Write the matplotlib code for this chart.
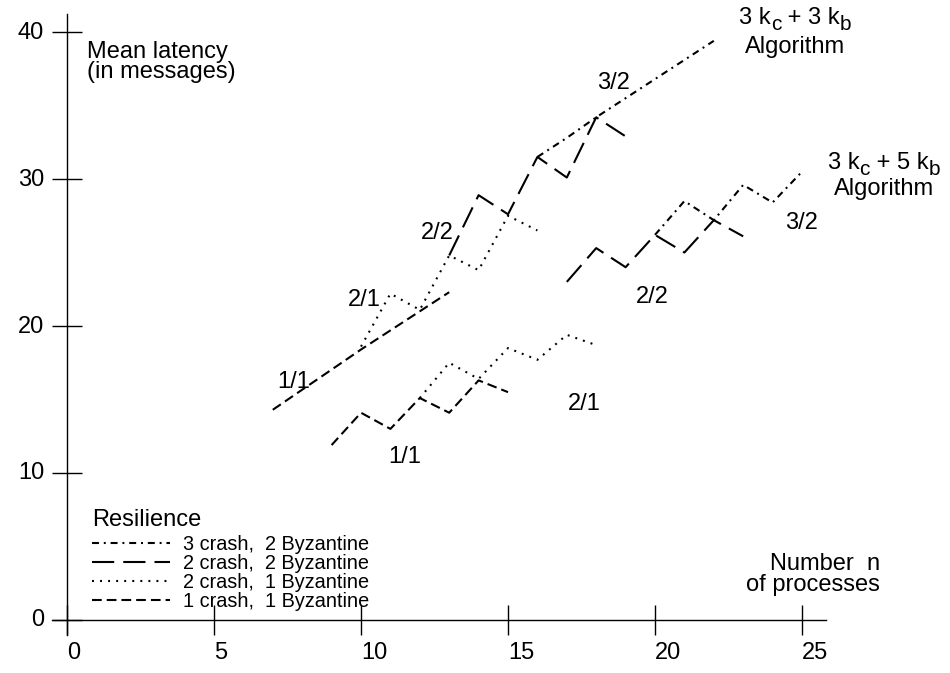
import matplotlib
matplotlib.use("Agg")
import matplotlib.pyplot as plt
from matplotlib.lines import Line2D
from matplotlib.transforms import ScaledTranslation

plt.rcParams['font.family'] = ['Liberation Sans', 'DejaVu Sans']
plt.rcParams['lines.scale_dashes'] = False

# ---- data: 3kc+3kb algorithm (left group) ----
left_11_n = [7, 10, 13]
left_11_y = [14.3, 18.4, 22.3]
left_21_n = [10, 11, 12, 13, 14, 15, 16]
left_21_y = [18.6, 22.2, 21.1, 24.8, 23.8, 27.5, 26.5]
left_22_n = [13, 14, 15, 16, 17, 18, 19]
left_22_y = [24.8, 28.9, 27.6, 31.5, 30.1, 34.2, 32.9]
left_32_n = [16, 17, 18, 20, 22]
left_32_y = [31.5, 32.8, 34.2, 36.8, 39.4]

# ---- data: 3kc+5kb algorithm (right group) ----
right_11_n = [9, 10, 11, 12, 13, 14, 15]
right_11_y = [11.9, 14.1, 13.0, 15.1, 14.1, 16.3, 15.5]
right_21_n = [12, 13, 14, 15, 16, 17, 18]
right_21_y = [15.1, 17.5, 16.4, 18.5, 17.7, 19.4, 18.7]
right_22_n = [17, 18, 19, 20, 21, 22, 23]
right_22_y = [23.0, 25.3, 24.0, 26.2, 25.0, 27.2, 26.1]
right_32_n = [20, 21, 22, 23, 24, 25]
right_32_y = [26.2, 28.5, 27.2, 29.6, 28.4, 30.5]

x_ticks = [0, 5, 10, 15, 20, 25]
x_ticklabels = ['0', '5', '10', '15', '20', '25']
y_ticks = [0, 10, 20, 30, 40]
y_ticklabels = ['0', '10', '20', '30', '40']

legend_title = 'Resilience'
legend_labels = ['3 crash,  2 Byzantine', '2 crash,  2 Byzantine',
                 '2 crash,  1 Byzantine', '1 crash,  1 Byzantine']

# series labels: (text, n, latency)
series_labels = [('1/1', 7.7, 16.2), ('2/1', 10.1, 21.8), ('2/2', 12.6, 26.3),
                 ('3/2', 18.6, 36.5), ('1/1', 11.5, 11.1), ('2/1', 17.6, 14.7),
                 ('2/2', 19.9, 22.0), ('3/2', 25.0, 27.0)]

# algorithm titles: pieces (text, is_subscript)
title1_parts = [('3 k', False), ('c', True), (' + 3 k', False), ('b', True)]
title2_parts = [('3 k', False), ('c', True), (' + 5 k', False), ('b', True)]

# ---- styles ----
LW = 1.5
FS = 17
st_11 = (0, (7.0, 3.6))
st_21 = (0, (1.4, 4.4))
st_22 = (0, (16.0, 6.5))
st_32 = (0, (5.0, 3.5, 1.4, 3.5))

fig = plt.figure(figsize=(9.5, 6.73), dpi=100)
ax = fig.add_axes([0.03958, 0.0351, 0.86653, 0.9610])
ax.set_xlim(-1.0, 27.0)
ax.set_ylim(-2.0, 42.0)

def draw(n, y, ls):
    ax.plot(n, y, color='black', lw=LW, linestyle=ls, dash_capstyle='butt',
            clip_on=False)

draw(left_11_n, left_11_y, st_11)
draw(left_21_n, left_21_y, st_21)
draw(left_22_n, left_22_y, st_22)
draw(left_32_n, left_32_y, st_32)
draw(right_11_n, right_11_y, st_11)
draw(right_21_n, right_21_y, st_21)
draw(right_22_n, right_22_y, st_22)
draw(right_32_n, right_32_y, st_32)

# axes styling
for s in ['top', 'right']:
    ax.spines[s].set_visible(False)
ax.spines['left'].set_position(('data', 0))
ax.spines['bottom'].set_position(('data', 0))
ax.spines['left'].set_bounds(-1.0, 41.2)
ax.spines['bottom'].set_bounds(-0.5, 25.8)
ax.spines['left'].set_linewidth(1.0)
ax.spines['bottom'].set_linewidth(1.0)

ax.set_xticks(x_ticks)
ax.set_xticklabels(x_ticklabels, fontsize=FS)
ax.set_yticks(y_ticks)
ax.set_yticklabels(y_ticklabels, fontsize=FS)
ax.tick_params(axis='both', direction='inout', length=21, width=1.0, color='black')
ax.tick_params(axis='x', pad=5)
ax.tick_params(axis='y', pad=6)
for lab in ax.get_xticklabels():
    lab.set_horizontalalignment('left')
for lab in ax.get_yticklabels():
    lab.set_transform(lab.get_transform() + ScaledTranslation(0, 2 / 100, fig.dpi_scale_trans))

# series labels
for txt, xx, yy in series_labels:
    ax.text(xx, yy, txt, fontsize=FS, ha='center', va='center')

# algorithm titles with subscripts
def sub_title(x, y, parts):
    prev = ax.text(x, y, parts[0][0], fontsize=FS, ha='left', va='bottom', clip_on=False)
    prev_sub = False
    for txt, sub in parts[1:]:
        if sub and not prev_sub:
            dy = -3.5
        elif prev_sub and not sub:
            dy = 3.5
        else:
            dy = 0
        prev = ax.annotate(txt, xy=(1, 0), xycoords=prev, xytext=(0, dy),
                           textcoords='offset points', fontsize=15 if sub else FS,
                           ha='left', va='bottom', annotation_clip=False)
        prev_sub = sub

sub_title(22.86, 40.2, title1_parts)
ax.text(24.76, 38.95, 'Algorithm', fontsize=FS, ha='center', va='center', clip_on=False)
sub_title(25.88, 30.35, title2_parts)
ax.text(27.8, 29.3, 'Algorithm', fontsize=FS, ha='center', va='center', clip_on=False)

# axis titles
ax.text(0.68, 39.4, 'Mean latency\n(in messages)', fontsize=FS, ha='left', va='top',
        linespacing=0.9)
ax.text(27.65, 3.1, 'Number  n\nof processes', fontsize=FS, ha='right', va='center',
        linespacing=0.9, multialignment='right', clip_on=False)

# legend
handles = [Line2D([], [], color='black', lw=LW, linestyle=st_32),
           Line2D([], [], color='black', lw=LW, linestyle=st_22),
           Line2D([], [], color='black', lw=LW, linestyle=st_21),
           Line2D([], [], color='black', lw=LW, linestyle=st_11)]
leg = ax.legend(handles, legend_labels, title=legend_title, loc='upper left',
                bbox_to_anchor=(0.85, 7.55), bbox_transform=ax.transData,
                frameon=False, fontsize=14.3, title_fontsize=FS, handlelength=3.95,
                handletextpad=0.65, labelspacing=0.0, borderpad=0, borderaxespad=0,
                alignment='left')
leg._legend_box.sep = 3

fig.savefig('out.png', dpi=100)
